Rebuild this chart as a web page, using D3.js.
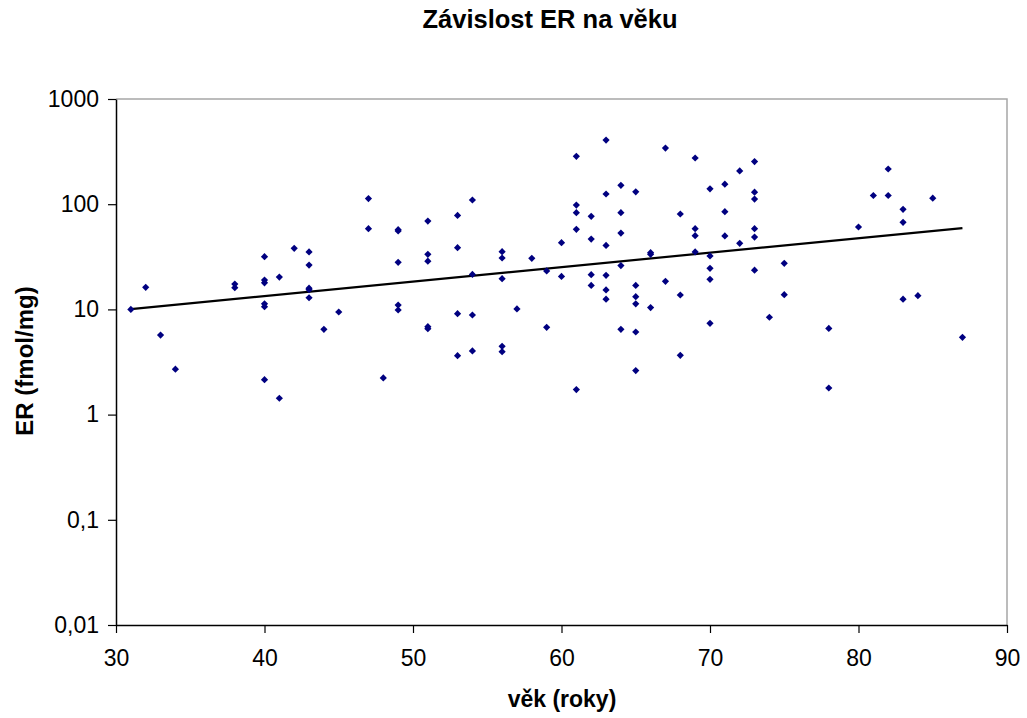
<!DOCTYPE html>
<html>
<head>
<meta charset="utf-8">
<script src="https://cdn.jsdelivr.net/npm/d3@7"></script>
<style>
  body { margin: 0; background: #fff; }
  text { font-family: "Liberation Sans", Arial, sans-serif; fill: #000; }
</style>
</head>
<body>
<div id="chart"></div>
<script>
// věk (roky) a ER (fmol/mg)
const ages = [
  31, 32, 33, 34, 38, 38,
  40, 40, 40, 40, 40, 40, 41, 41, 42,
  43, 43, 43, 43, 43, 44, 45, 47, 47, 48,
  49, 49, 49, 49, 49, 51, 51, 51, 51, 51,
  53, 53, 53, 53, 54, 54, 54, 54,
  56, 56, 56, 56, 56, 57, 58, 59, 59, 60, 60,
  61, 61, 61, 61, 61, 62, 62, 62, 62,
  63, 63, 63, 63, 63, 63, 64, 64, 64, 64, 64,
  65, 65, 65, 65, 65, 65, 66, 66, 66, 67, 67,
  68, 68, 68, 69, 69, 69, 69, 70, 70, 70, 70, 70,
  71, 71, 71, 72, 72, 73, 73, 73, 73, 73, 73,
  74, 75, 75, 78, 78, 80, 81, 82, 82, 83, 83, 83, 84, 85, 87
];
const er = [
  10.0, 16.2, 5.7, 2.7, 17.4, 16.1,
  31.7, 19.0, 17.9, 11.3, 10.6, 2.15, 20.3, 1.43, 38.1,
  35.2, 26.4, 15.9, 15.4, 12.9, 6.47, 9.45, 113, 58.5, 2.23,
  57.3, 55.6, 28.0, 11.0, 9.87, 69.2, 33.4, 28.7, 6.85, 6.56,
  78.3, 38.6, 9.1, 3.63, 109.6, 21.5, 8.85, 4.03,
  35.4, 30.8, 19.6, 4.46, 3.96, 10.1, 30.6, 23.2, 6.76, 43.1, 20.6,
  285, 98, 83, 57.7, 1.73, 76.7, 46.6, 21.4, 16.9,
  407, 125, 40.6, 21.1, 15.3, 12.5, 151, 83, 53.2, 26.1, 6.47,
  131, 16.9, 13.2, 11.3, 6.1, 2.62, 34.6, 33.4, 10.4, 342, 18.5,
  80.7, 13.7, 3.66, 275, 58.5, 50.2, 35.2, 140, 32.2, 24.6, 19.3, 7.38,
  155, 84.9, 49.9, 207, 42.5, 254, 130, 112, 58.5, 48.7, 23.6,
  8.42, 27.4, 13.8, 6.6, 1.79, 60.7, 121, 216, 121, 89.3, 67.3, 12.5, 13.5, 114, 5.43
];

const xTicks = [30, 40, 50, 60, 70, 80, 90];
const yTicks = [0.01, 0.1, 1, 10, 100, 1000];

const width = 1027;
const height = 718;
const plot = { left: 116, right: 1007, top: 99, bottom: 625 };

const svg = d3.select("#chart")
  .append("svg")
  .attr("width", width)
  .attr("height", height);

const x = d3.scaleLinear().domain([30, 90]).range([plot.left, plot.right]);
const y = d3.scaleLog().domain([0.01, 1000]).range([plot.bottom, plot.top]);

// čárka jako desetinný oddělovač
const cz = d3.formatLocale({ decimal: ",", thousands: "", grouping: [3], currency: ["", " Kč"] });
const fmt = cz.format("~g");

// rámeček plochy grafu (horní a pravá strana šedě)
svg.append("path")
  .attr("d", `M${plot.left},${plot.top}H${plot.right}V${plot.bottom}`)
  .attr("fill", "none")
  .attr("stroke", "#a6a6a6")
  .attr("stroke-width", 1.5);

const xAxis = svg.append("g")
  .attr("transform", `translate(0,${plot.bottom})`)
  .call(d3.axisBottom(x).tickValues(xTicks).tickSize(8).tickSizeOuter(0).tickPadding(17));

const yAxis = svg.append("g")
  .attr("transform", `translate(${plot.left},0)`)
  .call(d3.axisLeft(y).tickValues(yTicks).tickFormat(fmt).tickSize(8).tickSizeOuter(0).tickPadding(9));

[xAxis, yAxis].forEach(g => {
  g.select(".domain").attr("stroke", "#000").attr("stroke-width", 1.5);
  g.selectAll(".tick line").attr("stroke", "#000").attr("stroke-width", 1.2);
  g.selectAll(".tick text")
    .style("font-family", "'Liberation Sans', Arial, sans-serif")
    .style("font-size", "23px")
    .attr("fill", "#000");
});

// exponenciální spojnice trendu (jako v Excelu): ln y = ln a + b x
const n = ages.length;
const lnY = er.map(Math.log);
const mx = d3.mean(ages), my = d3.mean(lnY);
let sxy = 0, sxx = 0;
for (let i = 0; i < n; i++) {
  sxy += (ages[i] - mx) * (lnY[i] - my);
  sxx += (ages[i] - mx) ** 2;
}
const b = sxy / sxx;
const a = Math.exp(my - b * mx);
const trendX = d3.extent(ages);

svg.append("path")
  .datum(trendX)
  .attr("fill", "none")
  .attr("stroke", "#000")
  .attr("stroke-width", 2.2)
  .attr("d", d3.line().x(d => x(d)).y(d => y(a * Math.exp(b * d))));

// body
const pts = ages.map((d, i) => ({ age: d, er: er[i] }));
svg.append("g")
  .selectAll("path")
  .data(pts)
  .join("path")
  .attr("d", d3.symbol(d3.symbolSquare, 26))
  .attr("transform", d => `translate(${x(d.age)},${y(d.er)}) rotate(45)`)
  .attr("fill", "#000080");

// popisky
svg.append("text")
  .attr("x", 550)
  .attr("y", 28)
  .attr("text-anchor", "middle")
  .style("font-size", "25.5px")
  .style("font-weight", "bold")
  .text("Závislost ER na věku");

svg.append("text")
  .attr("x", 562)
  .attr("y", 707)
  .attr("text-anchor", "middle")
  .style("font-size", "23px")
  .style("font-weight", "bold")
  .text("věk (roky)");

svg.append("text")
  .attr("transform", `translate(33,361) rotate(-90)`)
  .attr("text-anchor", "middle")
  .style("font-size", "24px")
  .style("font-weight", "bold")
  .text("ER (fmol/mg)");
</script>
</body>
</html>
